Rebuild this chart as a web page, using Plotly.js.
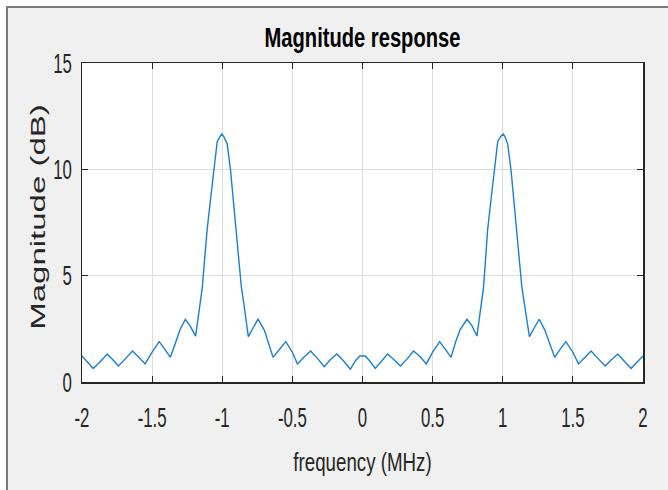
<!DOCTYPE html>
<html>
<head>
<meta charset="utf-8">
<script src="https://cdn.plot.ly/plotly-3.0.1.min.js"></script>
<style>
  html, body { margin:0; padding:0; background:#ffffff; }
  #frame { position:absolute; left:6px; top:6px; width:662px; height:484px;
           background:#f0f0f0; border-top:2px solid #7a7a7a; border-left:2px solid #7a7a7a; box-sizing:border-box; }
  #chart { position:absolute; left:0; top:0; width:668px; height:490px; }
</style>
</head>
<body>
<div id="frame"></div>
<div id="chart"></div>
<script>
// Frequency (MHz) and magnitude (dB)
const frequency = [
  -2.00, -1.96, -1.92, -1.87, -1.82, -1.78, -1.74, -1.69, -1.64, -1.60,
  -1.55, -1.50, -1.45, -1.41, -1.37, -1.33, -1.30, -1.263, -1.23, -1.19,
  -1.156, -1.143, -1.132, -1.108, -1.084, -1.06, -1.036, -1.015, -1.003, -0.99,
  -0.965, -0.941, -0.917, -0.893, -0.864, -0.85, -0.814, -0.78, -0.745, -0.70,
  -0.67, -0.638, -0.59, -0.547, -0.50, -0.464, -0.42, -0.37, -0.32, -0.273,
  -0.23, -0.182, -0.13, -0.087, -0.05, -0.02, 0.02, 0.05, 0.091, 0.135,
  0.179, 0.225, 0.27, 0.32, 0.364, 0.41, 0.455, 0.50, 0.55, 0.59,
  0.631, 0.665, 0.697, 0.745, 0.78, 0.816, 0.85, 0.862, 0.872, 0.892,
  0.916, 0.94, 0.964, 0.985, 1.003, 1.015, 1.035, 1.059, 1.083, 1.107,
  1.136, 1.15, 1.19, 1.225, 1.26, 1.30, 1.335, 1.37, 1.41, 1.45,
  1.50, 1.54, 1.585, 1.63, 1.68, 1.73, 1.775, 1.82, 1.87, 1.915,
  1.96, 2.00
];
const magnitude_dB = [
  1.22, 0.95, 0.64, 0.95, 1.32, 1.05, 0.75, 1.10, 1.46, 1.20,
  0.85, 1.40, 1.90, 1.55, 1.16, 1.90, 2.48, 2.95, 2.65, 2.16,
  3.86, 4.40, 5.27, 7.15, 8.56, 10.0, 11.3, 11.55, 11.66, 11.55,
  11.2, 9.97, 8.24, 6.52, 4.48, 3.86, 2.13, 2.55, 2.95, 2.44,
  1.80, 1.16, 1.55, 1.90, 1.40, 0.85, 1.15, 1.46, 1.10, 0.72,
  1.05, 1.32, 0.95, 0.60, 1.00, 1.22, 1.22, 1.00, 0.64, 1.00,
  1.32, 1.05, 0.75, 1.10, 1.46, 1.20, 0.85, 1.40, 1.90, 1.55,
  1.16, 1.90, 2.48, 2.95, 2.65, 2.16, 3.86, 4.40, 5.27, 7.15,
  8.56, 10.0, 11.3, 11.55, 11.66, 11.55, 11.2, 9.97, 8.24, 6.52,
  4.48, 3.86, 2.13, 2.55, 2.95, 2.44, 1.80, 1.16, 1.55, 1.90,
  1.40, 0.85, 1.15, 1.46, 1.10, 0.75, 1.05, 1.32, 0.95, 0.64,
  0.95, 1.22
];
const xTickVals = [-2, -1.5, -1, -0.5, 0, 0.5, 1, 1.5, 2];
const xTickText = ["-2", "-1.5", "-1", "-0.5", "0", "0.5", "1", "1.5", "2"];
const yTickVals = [0, 5, 10, 15];
const yTickText = ["0", "5", "10", "15"];

const sans = '"Liberation Sans", Arial, Helvetica, sans-serif';

const trace = {
  x: frequency, y: magnitude_dB, type: 'scatter', mode: 'lines',
  line: { color: '#1a7fd0', width: 1.4 }, hoverinfo: 'skip'
};

const axisCommon = {
  showline: true, linecolor: '#262626', linewidth: 1.5, mirror: 'ticks',
  ticks: 'inside', ticklen: 6, tickwidth: 1.2, tickcolor: '#262626',
  showgrid: true, gridcolor: '#dddddd', gridwidth: 1, zeroline: false,
  tickfont: { family: sans, size: 28, color: '#262626' }
};

const layout = {
  width: 668, height: 490,
  margin: { l: 82, r: 25, t: 63, b: 108, pad: 0 },
  paper_bgcolor: 'rgba(0,0,0,0)', plot_bgcolor: '#ffffff',
  showlegend: false,
  title: { text: 'Magnitude response', font: { family: sans, size: 28, color: '#000000', weight: 'bold' },
           x: 0.5, xref: 'paper', y: 1 - 37/490, yref: 'container', yanchor: 'middle' },
  xaxis: Object.assign({}, axisCommon, {
    range: [-2, 2], tickmode: 'array', tickvals: xTickVals, ticktext: xTickText,
    ticklabelstandoff: 10,
    title: { text: 'frequency (MHz)', font: { family: sans, size: 26, color: '#262626' }, standoff: 20 }
  }),
  yaxis: Object.assign({}, axisCommon, {
    range: [0, 15], tickmode: 'array', tickvals: yTickVals, ticktext: yTickText,
    ticklabelstandoff: 3,
    title: { text: 'Magnitude (dB)', font: { family: sans, size: 33, color: '#262626' }, standoff: 4 }
  })
};

// The reference image is horizontally compressed: squeeze text glyphs the same way,
// optionally moving the text's centre to a target position.
function squeeze(selector, s, anchor, target) {
  document.querySelectorAll('#chart ' + selector).forEach(function (el) {
    const r = el.getBoundingClientRect();
    const cx = anchor === 'right' ? r.right : r.left + r.width / 2;
    const cy = r.top + r.height / 2;
    let dx = 0, dy = 0;
    if (target) { dx = target[0] - cx; dy = target[1] - cy; }
    const t = el.getAttribute('transform') || '';
    el.setAttribute('transform', 'translate(' + (cx + dx) + ',' + dy + ') scale(' + s + ',1) translate(' + (-cx) + ',0) ' + t);
  });
}

Plotly.newPlot('chart', [trace], layout, { staticPlot: true, displayModeBar: false }).then(function () {
  squeeze('.xtick text', 0.6, 'center');
  squeeze('.ytick text', 0.6, 'right');
  squeeze('.gtitle', 0.72, 'center');
  squeeze('.xtitle', 0.72, 'center');
  squeeze('.ytitle', 0.6, 'center', [36, 217]);
});
</script>
</body>
</html>
